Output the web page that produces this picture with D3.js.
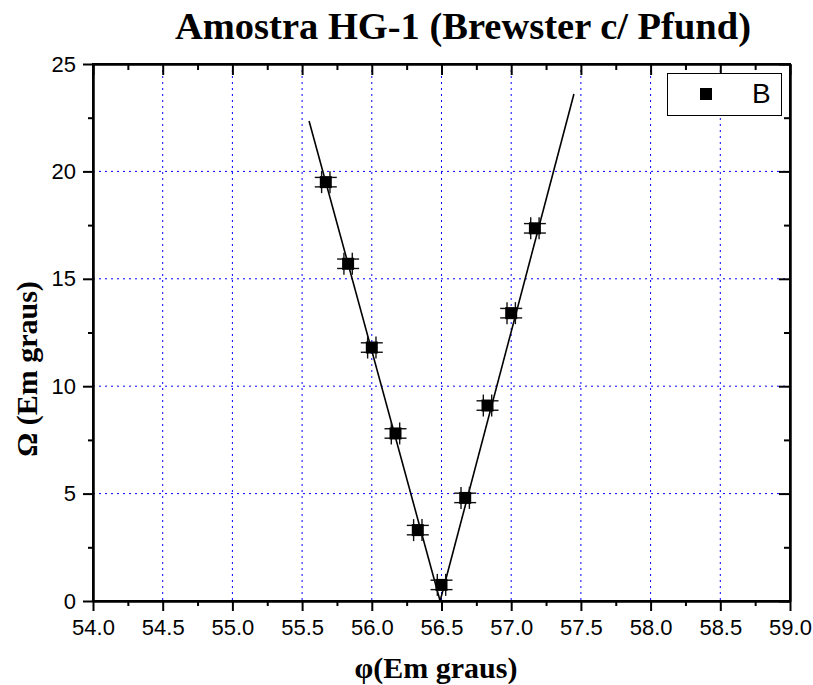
<!DOCTYPE html>
<html>
<head>
<meta charset="utf-8">
<script src="https://cdn.jsdelivr.net/npm/d3@7"></script>
<style>
  body { margin: 0; background: #fff; }
  .axis path, .axis line { stroke: #000; stroke-width: 2px; }
  .grid line { stroke: #0000ff; stroke-width: 1px; stroke-dasharray: 2,4; }
  .fit { fill: none; stroke: #000; stroke-width: 1.6px; }
  .err line { stroke: #111; stroke-width: 1.4px; }
</style>
</head>
<body>
<div id="chart"></div>
<script>
// measured points (phi, omega) with their errors
const phi = [55.67, 55.83, 56.00, 56.17, 56.33, 56.50, 56.67, 56.83, 57.00, 57.17]
const omega = [19.5, 15.7, 11.8, 7.8, 3.3, 0.75, 4.8, 9.1, 13.4, 17.35]
const phiErr = [0.03, 0.03, 0.03, 0.03, 0.03, 0.03, 0.03, 0.03, 0.03, 0.03]
const omegaErr = [0.22, 0.22, 0.22, 0.22, 0.22, 0.22, 0.22, 0.22, 0.22, 0.22]

// linear fits drawn through each branch
const leftFit = [[55.55, 22.35], [56.49, 0.0]]
const rightFit = [[56.49, 0.0], [57.45, 23.6]]

const xMajor = [54.0, 54.5, 55.0, 55.5, 56.0, 56.5, 57.0, 57.5, 58.0, 58.5, 59.0]
const xMinor = [54.25, 54.75, 55.25, 55.75, 56.25, 56.75, 57.25, 57.75, 58.25, 58.75]
const yMajor = [0, 5, 10, 15, 20, 25]
const yMinor = [2.5, 7.5, 12.5, 17.5, 22.5]

const title = 'Amostra HG-1 (Brewster c/ Pfund)'
const xTitle = 'φ(Em graus)'
const yTitle = 'Ω (Em graus)'
const legendLabel = 'B'

const width = 813
const height = 685
const plotLeft = 93, plotRight = 790, plotTop = 64, plotBottom = 601
const sans = 'Arial, "Liberation Sans", sans-serif'
const serif = '"Times New Roman", "Liberation Serif", serif'

const svg = d3.select('#chart')
  .append('svg')
  .attr('width', width)
  .attr('height', height)

const x = d3.scaleLinear().domain([54, 59]).range([plotLeft, plotRight])
const y = d3.scaleLinear().domain([0, 25]).range([plotBottom, plotTop])

// grid first so the marks sit on top
const grid = svg.append('g').attr('class', 'grid')
grid.selectAll('.gx')
  .data(xMajor.slice(1, -1))
  .join('line')
  .attr('x1', d => x(d)).attr('x2', d => x(d))
  .attr('y1', plotTop).attr('y2', plotBottom)
grid.selectAll('.gy')
  .data(yMajor.slice(1, -1))
  .join('line')
  .attr('x1', plotLeft).attr('x2', plotRight)
  .attr('y1', d => y(d)).attr('y2', d => y(d))

// axes: outward ticks bottom/left, inward ticks top/right
function addAxis(axis, tx, ty) {
  const g = svg.append('g')
    .attr('class', 'axis')
    .attr('transform', `translate(${tx},${ty})`)
    .call(axis)
  g.selectAll('text')
    .style('font-family', sans)
    .style('font-size', '22px')
}
addAxis(d3.axisBottom(x).tickValues(xMajor).tickSize(10).tickSizeOuter(0)
  .tickPadding(8).tickFormat(d3.format('.1f')), 0, plotBottom)
addAxis(d3.axisBottom(x).tickValues(xMinor).tickSize(5).tickSizeOuter(0).tickFormat(''), 0, plotBottom)
addAxis(d3.axisTop(x).tickValues(xMajor).tickSize(-11).tickSizeOuter(0).tickFormat(''), 0, plotTop)
addAxis(d3.axisTop(x).tickValues(xMinor).tickSize(-6).tickSizeOuter(0).tickFormat(''), 0, plotTop)
addAxis(d3.axisLeft(y).tickValues(yMajor).tickSize(10).tickSizeOuter(0)
  .tickPadding(7).tickFormat(d3.format('d')), plotLeft, 0)
addAxis(d3.axisLeft(y).tickValues(yMinor).tickSize(5).tickSizeOuter(0).tickFormat(''), plotLeft, 0)
addAxis(d3.axisRight(y).tickValues(yMajor).tickSize(-11).tickSizeOuter(0).tickFormat(''), plotRight, 0)
addAxis(d3.axisRight(y).tickValues(yMinor).tickSize(-6).tickSizeOuter(0).tickFormat(''), plotRight, 0)

// square the corners
svg.append('rect')
  .attr('x', plotLeft).attr('y', plotTop)
  .attr('width', plotRight - plotLeft).attr('height', plotBottom - plotTop)
  .attr('fill', 'none').attr('stroke', '#000').attr('stroke-width', 2)

// fitted lines
const line = d3.line().x(d => x(d[0])).y(d => y(d[1]))
svg.append('path').attr('class', 'fit').attr('d', line(leftFit))
svg.append('path').attr('class', 'fit').attr('d', line(rightFit))

// points with x and y error bars
const points = phi.map((p, i) => ({ p, o: omega[i], ep: phiErr[i], eo: omegaErr[i] }))
const capHalf = 11
const err = svg.append('g').attr('class', 'err')
points.forEach(d => {
  const cx = x(d.p), cy = y(d.o)
  const x0 = x(d.p - d.ep), x1 = x(d.p + d.ep)
  const y0 = y(d.o - d.eo), y1 = y(d.o + d.eo)
  err.append('line').attr('x1', x0).attr('x2', x1).attr('y1', cy).attr('y2', cy)
  err.append('line').attr('x1', x0).attr('x2', x0).attr('y1', cy - capHalf).attr('y2', cy + capHalf)
  err.append('line').attr('x1', x1).attr('x2', x1).attr('y1', cy - capHalf).attr('y2', cy + capHalf)
  err.append('line').attr('x1', cx).attr('x2', cx).attr('y1', y0).attr('y2', y1)
  err.append('line').attr('x1', cx - capHalf).attr('x2', cx + capHalf).attr('y1', y0).attr('y2', y0)
  err.append('line').attr('x1', cx - capHalf).attr('x2', cx + capHalf).attr('y1', y1).attr('y2', y1)
})

const sq = 12
svg.append('g').selectAll('rect')
  .data(points)
  .join('rect')
  .attr('x', d => x(d.p) - sq / 2)
  .attr('y', d => y(d.o) - sq / 2)
  .attr('width', sq).attr('height', sq)
  .attr('fill', '#000')

// legend
const legend = svg.append('g')
legend.append('rect')
  .attr('x', 667.5).attr('y', 73.5).attr('width', 114).attr('height', 42)
  .attr('fill', '#fff').attr('stroke', '#000').attr('stroke-width', 1)
legend.append('rect')
  .attr('x', 700).attr('y', 88).attr('width', sq).attr('height', sq)
  .attr('fill', '#000')
legend.append('text')
  .attr('x', 752).attr('y', 103)
  .attr('font-family', sans)
  .attr('font-size', 28)
  .text(legendLabel)

// titles
svg.append('text')
  .attr('x', 463).attr('y', 39)
  .attr('text-anchor', 'middle')
  .attr('font-family', serif).attr('font-weight', 'bold').attr('font-size', 38.5)
  .text(title)
svg.append('text')
  .attr('x', 436).attr('y', 678)
  .attr('text-anchor', 'middle')
  .attr('font-family', serif).attr('font-weight', 'bold').attr('font-size', 30)
  .text(xTitle)
svg.append('text')
  .attr('transform', 'translate(37,369) rotate(-90)')
  .attr('text-anchor', 'middle')
  .attr('font-family', serif).attr('font-weight', 'bold').attr('font-size', 30)
  .text(yTitle)
</script>
</body>
</html>
